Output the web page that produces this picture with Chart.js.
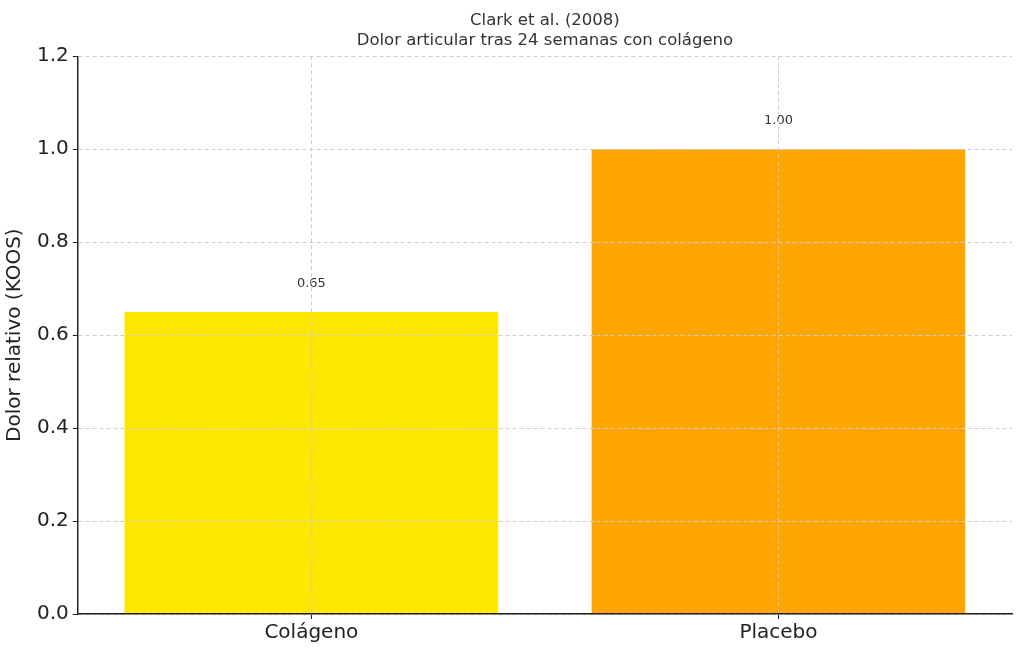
<!DOCTYPE html>
<html>
<head>
<meta charset="utf-8">
<script src="https://cdn.jsdelivr.net/npm/chart.js@4.4.1/dist/chart.umd.min.js"></script>
<style>
  html, body { margin: 0; padding: 0; background: #fff; }
  #wrap { width: 1024px; height: 652px; }
</style>
</head>
<body>
<div id="wrap"><canvas id="chart"></canvas></div>
<script>
// Chart data
const categories = ['Colágeno', 'Placebo'];
const painValues = [0.65, 1.00];
const barColors = ['#FFE800', '#FFA500'];
const titleLines = ['Clark et al. (2008)', 'Dolor articular tras 24 semanas con colágeno'];
const yAxisLabel = 'Dolor relativo (KOOS)';

const FONT = 'DejaVu Sans';

// Draw value labels above each bar
const valueLabels = {
    id: 'valueLabels',
    afterDatasetsDraw(chart) {
        const ctx = chart.ctx;
        const meta = chart.getDatasetMeta(0);
        ctx.save();
        ctx.font = '13px "' + FONT + '"';
        ctx.fillStyle = '#333';
        ctx.textAlign = 'center';
        ctx.textBaseline = 'bottom';
        meta.data.forEach((bar, i) => {
            ctx.fillText(painValues[i].toFixed(2), bar.x, bar.y - 22);
        });
        ctx.restore();
    }
};

const ctx = document.getElementById('chart').getContext('2d');

// grid lines sit on top of the bars, like the original
const gridOpts = {
    offset: false,
    z: 1,
    color: '#cccccc',
    tickBorderDash: [],
    tickColor: '#222',
    tickLength: 5
};
const borderOpts = { display: true, color: '#222', width: 1.5, dash: [4, 3], z: 2 };

new Chart(ctx, {
    type: 'bar',
    data: {
        labels: categories,
        datasets: [{
            data: painValues,
            backgroundColor: barColors,
            borderWidth: 0,
            categoryPercentage: 1.0,
            barPercentage: 0.8
        }]
    },
    options: {
        responsive: true,
        maintainAspectRatio: false,
        animation: false,
        layout: { padding: { left: 3, right: 12, top: 11, bottom: 5 } },
        plugins: {
            legend: { display: false },
            tooltip: { enabled: false },
            title: {
                display: true,
                text: titleLines,
                fullSize: false,
                color: '#333',
                font: { family: FONT, size: 16.5, weight: 'normal', lineHeight: 1.22 },
                padding: { top: 0, bottom: 5 }
            }
        },
        scales: {
            x: {
                offset: true,
                grid: gridOpts,
                border: borderOpts,
                ticks: {
                    color: '#222',
                    font: { family: FONT, size: 20 },
                    padding: 2
                }
            },
            y: {
                min: 0,
                max: 1.2,
                grid: gridOpts,
                border: borderOpts,
                ticks: {
                    stepSize: 0.2,
                    color: '#222',
                    font: { family: FONT, size: 20 },
                    padding: 4,
                    callback: v => v.toFixed(1)
                },
                title: {
                    display: true,
                    text: yAxisLabel,
                    color: '#222',
                    font: { family: FONT, size: 20 },
                    padding: { top: 0, bottom: 6 }
                }
            }
        }
    },
    plugins: [valueLabels]
});
</script>
</body>
</html>
